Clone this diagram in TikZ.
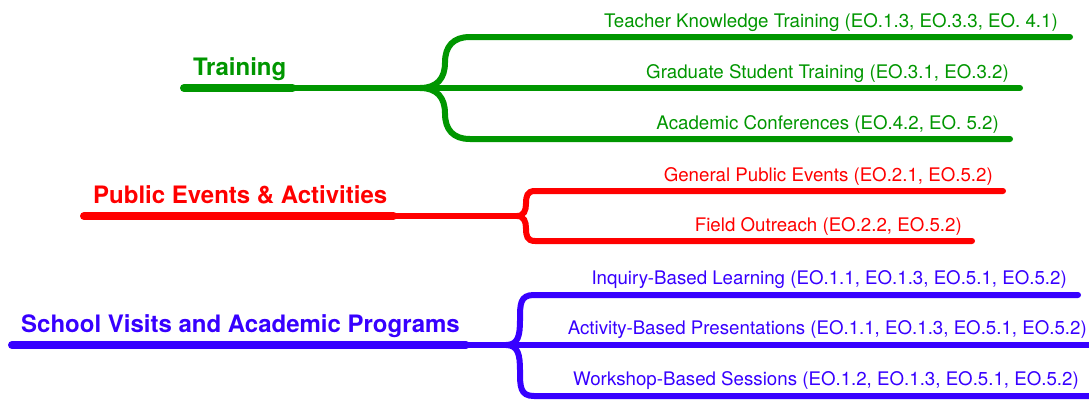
\documentclass[tikz,border=0pt]{standalone}
\usepackage{fontspec}
\setmainfont{TeX Gyre Heros}
\usetikzlibrary{calc,positioning}
\definecolor{trgreen}{RGB}{0,150,0}
\definecolor{evred}{RGB}{255,0,0}
\definecolor{scblue}{RGB}{55,0,255}
\tikzset{
  topic/.style={font=\bfseries\fontsize{24}{28}\selectfont,
                inner sep=0pt,anchor=base west},
  item/.style={font=\fontsize{18.7}{22}\selectfont,
               inner sep=0pt,anchor=base east},
  stem/.style={line width=8pt,line cap=round},
  twig/.style={line width=6pt,line cap=round}
}

\begin{document}
\begin{tikzpicture}[x=1pt,y=-1pt]
\useasboundingbox (0,0) rectangle (1089,399);
\clip (0,0) rectangle (1089,399);
% Training
\coordinate (gS) at (184,88);
\coordinate (gB) at (420,88);
\coordinate (g1) at (470,37);
\coordinate (g1e) at (1070,37);
\coordinate (g2e) at (1020,88);
\coordinate (g3) at (470,139);
\coordinate (g3e) at (1010,139);
\node[topic,trgreen] (train) at ($(gS)+(9,-13)$) {Training};
\draw[stem,trgreen] (gS) -- ($(gS -| train.east)+(6,0)$);
\draw[twig,trgreen] (gS) -- (gB) -- (g2e);
\draw[twig,trgreen] (gB) .. controls +(17,0) and +(0,16) ..
  ($(gB)!.5!(g1)$) .. controls +(0,-16) and +(-17,0) .. (g1) -- (g1e);
\draw[twig,trgreen] (gB) .. controls +(17,0) and +(0,-16) ..
  ($(gB)!.5!(g3)$) .. controls +(0,16) and +(-17,0) .. (g3) -- (g3e);
\node[item,trgreen] (teach) at ($(g1e)+(-12,-10)$)
  {Teacher Knowledge Training (EO.1.3, EO.3.3, EO. 4.1)};
\node[item,trgreen] (grad) at ($(g2e)+(-11,-10)$)
  {Graduate Student Training (EO.3.1, EO.3.2)};
\node[item,trgreen] (conf) at ($(g3e)+(-11,-10)$)
  {Academic Conferences (EO.4.2, EO. 5.2)};
% Public events
\coordinate (rS) at (84,216);
\coordinate (rB) at (517,216);
\coordinate (r1) at (535,191);
\coordinate (r1e) at (1003,191);
\coordinate (r2) at (535,241);
\coordinate (r2e) at (972,241);
\node[topic,evred] (public) at ($(rS)+(9,-13)$) {Public Events \& Activities};
\draw[stem,evred] (rS) -- ($(rS -| public.east)+(6,0)$);
\draw[twig,evred] (rS) -- (rB);
\draw[twig,evred] (rB) .. controls +(7,0) and +(0,7) ..
  ($(rB)!.5!(r1)$) .. controls +(0,-7) and +(-8,0) .. (r1) -- (r1e);
\draw[twig,evred] (rB) .. controls +(7,0) and +(0,-7) ..
  ($(rB)!.5!(r2)$) .. controls +(0,7) and +(-8,0) .. (r2) -- (r2e);
\node[item,evred] (general) at ($(r1e)+(-10,-10)$)
  {General Public Events (EO.2.1, EO.5.2)};
\node[item,evred] (field) at ($(r2e)+(-10,-10)$)
  {Field Outreach (EO.2.2, EO.5.2)};
% School visits
\coordinate (bS) at (12,345);
\coordinate (bB) at (506,345);
\coordinate (b1) at (534,295);
\coordinate (b1e) at (1078,295);
\coordinate (b2e) at (1098,345);
\coordinate (b3) at (534,396);
\coordinate (b3e) at (1090,396);
\node[topic,scblue] (school) at ($(bS)+(9,-13)$)
  {School Visits and Academic Programs};
\draw[stem,scblue] (bS) -- ($(bS -| school.east)+(6,0)$);
\draw[twig,scblue] (bS) -- (bB) -- (b2e);
\draw[twig,scblue] (bB) .. controls +(12,0) and +(0,16) ..
  ($(bB)!.5!(b1)$) .. controls +(0,-16) and +(-14,0) .. (b1) -- (b1e);
\draw[twig,scblue] (bB) .. controls +(12,0) and +(0,-16) ..
  ($(bB)!.5!(b3)$) .. controls +(0,16) and +(-14,0) .. (b3) -- (b3e);
\node[item,scblue] (inquiry) at ($(b1e)+(-11,-11)$)
  {Inquiry-Based Learning (EO.1.1, EO.1.3, EO.5.1, EO.5.2)};
\node[item,scblue] (activity) at ($(b2e)+(-11,-11)$)
  {Activity-Based Presentations (EO.1.1, EO.1.3, EO.5.1, EO.5.2)};
\node[item,scblue] (workshop) at ($(b3e)+(-11,-11)$)
  {Workshop-Based Sessions (EO.1.2, EO.1.3, EO.5.1, EO.5.2)};
\end{tikzpicture}
\end{document}
